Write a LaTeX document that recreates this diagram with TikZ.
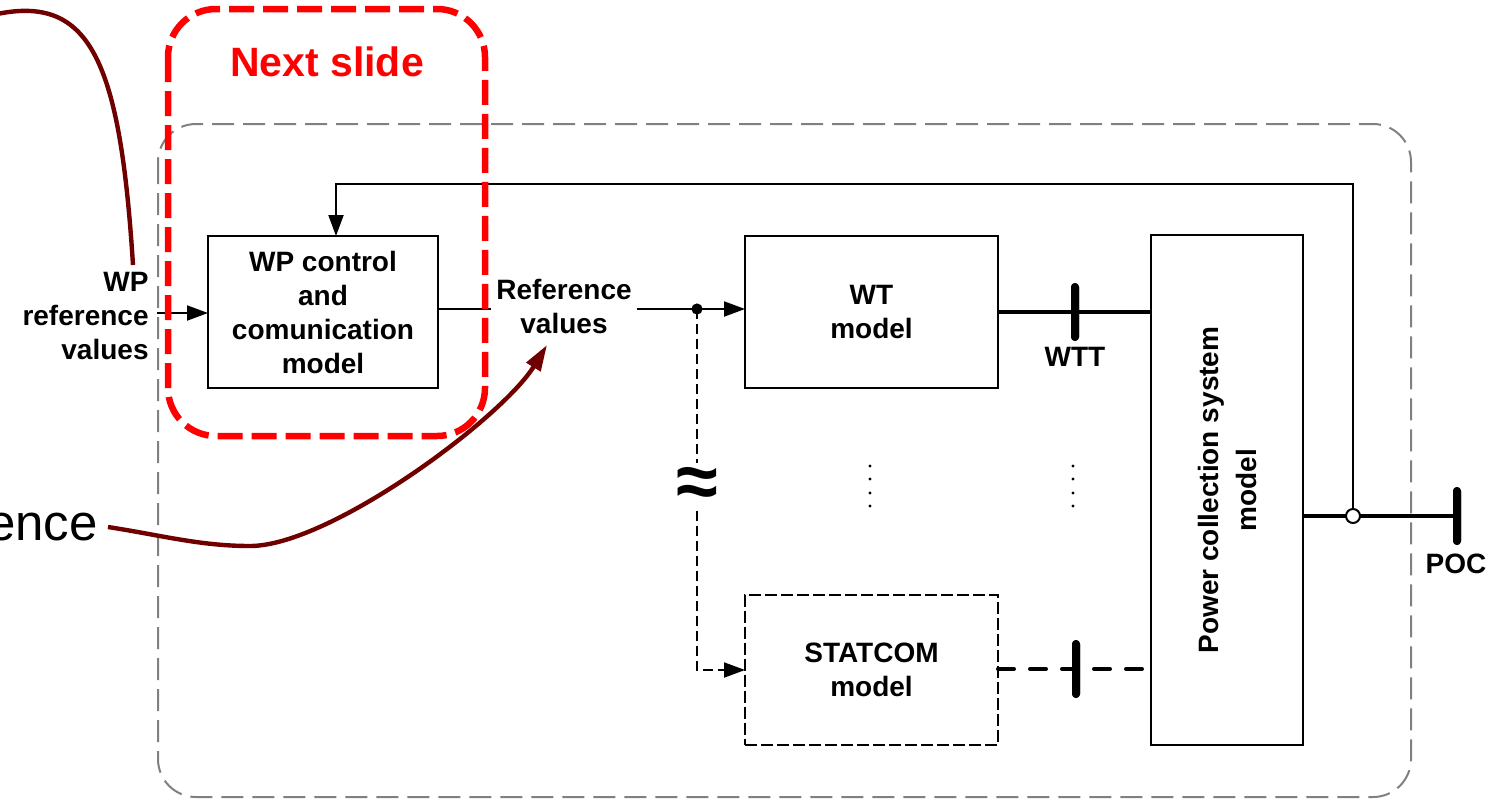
\documentclass[tikz,border=0pt]{standalone}
\usepackage{fontspec}
\setmainfont{Liberation Sans}
\usetikzlibrary{arrows.meta}
\definecolor{slidered}{HTML}{FF0000}
\definecolor{linkred}{HTML}{700000}
\definecolor{framegray}{HTML}{808080}
\newcommand\boxfont{\fontsize{14}{17}\selectfont\bfseries}

\begin{document}
\begin{tikzpicture}[x=0.5pt,y=-0.5pt,
  blk/.style={draw, line width=1.2pt, inner sep=0pt, outer sep=0pt, align=center, font=\boxfont},
  lbl/.style={align=center, font=\boxfont, inner sep=0pt},
  wire/.style={line width=1pt},
  arr/.style={wire, -{Triangle[length=10.5pt,width=7.5pt]}},
  dwire/.style={wire, dash pattern=on 5pt off 2.5pt},
  bus/.style={line width=2pt},
  dbus/.style={line width=2pt, line cap=round, dash pattern=on 8pt off 8pt},
  busbar/.style={fill=black, rounded corners=2pt, minimum width=4pt, inner sep=0pt, outer sep=0pt},
  link/.style={draw=linkred, line width=2.2pt},
  dot/.style={fill=black}
]
\useasboundingbox (0,0) rectangle (1504,799);

% wind power plant boundary
\draw[framegray, line width=1pt, dash pattern=on 11pt off 4.5pt, rounded corners=19pt]
  (158,124) rectangle (1411,797);

% blocks
\node[blk, minimum width=115pt, minimum height=76pt] (wpc) at (323,312)
  {WP control\\and\\comunication\\model};
\node[blk, minimum width=126.5pt, minimum height=76pt] (wt) at (871.5,312)
  {WT\\model};
\node[blk, dash pattern=on 6pt off 2pt, line width=1pt, minimum width=126.5pt, minimum height=75pt] (stat) at (871.5,670)
  {STATCOM\\model};
\node[blk, minimum width=76pt, minimum height=255pt] (pcs) at (1227,490) {};
\node[lbl, rotate=90, font=\fontsize{14}{19}\selectfont\bfseries] (pcstext) at (pcs.center)
  {Power collection system\\model};

% labels
\node[lbl, anchor=east, align=right] (wpref) at (149,316) {WP\\reference\\values};
\node[lbl, inner xsep=2.5pt] (refv) at (564,306) {Reference\\values};
\node[anchor=east, inner xsep=5pt, inner ysep=0pt, font=\fontsize{25.5}{30}\selectfont] (ence) at (108,527) {ence};

% bus bars
\node[busbar, minimum height=29pt] (wttbar) at (1075,312) {};
\node[busbar, minimum height=29pt] (stbar) at (1076,669) {};
\node[busbar, minimum height=29pt] (pocbar) at (1457,516) {};
\node[lbl, anchor=north] (wtt) at (1075,347) {WTT};
\node[lbl, anchor=north] (poc) at (1456,554) {POC};

% signal path
\coordinate (inA) at (157,313);
\coordinate (j) at (697,309);
\coordinate (fb) at (336,184);
\draw[arr] (inA) -- (inA -| wpc.west);
\draw[wire] (wpc.east |- j) -- (refv.west |- j);
\draw[arr] (refv.east |- j) -- (wt.west |- j);
\fill (j) circle (2.8pt);
\node[inner sep=0pt, minimum height=23.5pt, font=\fontsize{38}{38}\selectfont\bfseries] (apx) at (697,487) {≈};
\draw[dwire] (j) -- (apx.north);
\draw[dwire, -{Triangle[length=10.5pt,width=7.5pt]}] (apx.south) |- (stat.west);

% electrical connections
\draw[bus] (wt.east |- wttbar) -- (pcs.west |- wttbar);
\draw[dbus] (stat.east |- stbar) -- (pcs.west |- stbar);
\draw[bus] (pcs.east |- pocbar) -- (pocbar.center);
\node[busbar, minimum height=29pt] at (wttbar) {};
\node[busbar, minimum height=29pt] at (stbar) {};
\node[busbar, minimum height=29pt] at (pocbar) {};
\node[circle, draw, fill=white, line width=1pt, minimum size=7pt, inner sep=0pt] (fj) at (1353,516) {};

% feedback to the plant controller
\draw[arr] (fj.north) |- (fb) -- (fb |- wpc.north);

% further units
\foreach \y in {466,479,493,506} {
  \fill (870,\y) circle (0.8pt);
  \fill (1073,\y) circle (0.8pt);
}

% external links
\coordinate (c1s) at (-3,14);
\coordinate (c1e) at (133,265);
\coordinate (rvtip) at (547,345);
\draw[link] (c1s) .. controls (90,-5) and (120,60) .. (c1e);
\draw[link, -{Triangle[length=13pt,width=8pt,fill=linkred]}]
  (ence.east) .. controls (160,535) and (200,546) .. (250,546)
  .. controls (330,546) and (502,418) .. (rvtip);

% next slide highlight
\draw[slidered, line width=3.25pt, dash pattern=on 12.5pt off 4.5pt, rounded corners=24pt]
  (168,9) rectangle (485,436);
\node[text=slidered, font=\fontsize{20.5}{24}\selectfont\bfseries] (next) at (327,62) {Next slide};
\end{tikzpicture}
\end{document}
